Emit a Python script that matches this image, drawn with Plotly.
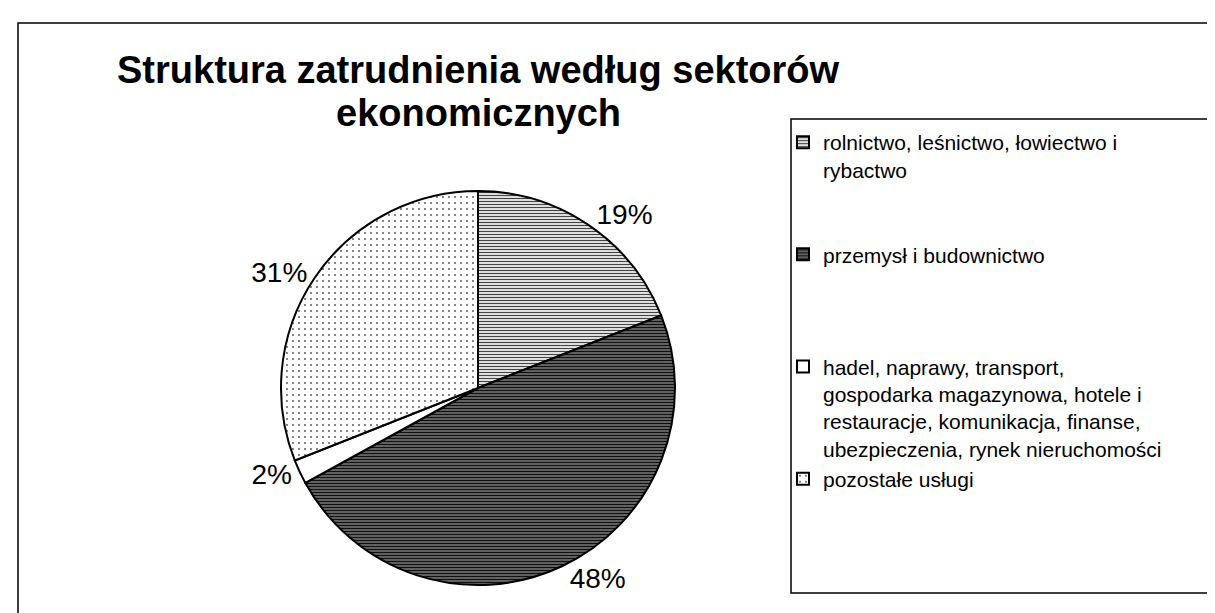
import plotly.graph_objects as go

W, H = 1215, 613

NB = "<br>\u00a0"  # blank spacer line inside a legend entry
labels = [
    "rolnictwo, leśnictwo, łowiectwo i<br>rybactwo" + NB + NB,
    "przemysł i budownictwo" + NB + NB + NB,
    "hadel, naprawy, transport,<br>gospodarka magazynowa, hotele i<br>restauracje, komunikacja, finanse,<br>ubezpieczenia, rynek nieruchomości",
    "pozostałe usługi",
]
values = [19, 48, 2, 31]
title_lines = ["Struktura zatrudnienia według sektorów", "ekonomicznych"]

pat_shape = ["-", "-", "", "."]
pat_fg = ["#444444", "#111111", "#000000", "#555555"]
pat_bg = ["#ffffff", "#7a7a7a", "#ffffff", "#ffffff"]
pat_size = [3, 3, 6, 6]
pat_sol = [0.45, 0.5, 0.1, 0.08]

FONT = "Liberation Sans, Arial, sans-serif"

def px(x):
    return x / W

def py(y):
    return 1 - y / H

cx, cy, rad = 470, 380, 197

fig = go.Figure(go.Pie(
    labels=labels,
    values=values,
    sort=False,
    direction="clockwise",
    rotation=0,
    textposition="outside",
    texttemplate="%{percent:.0%}",
    textfont=dict(family=FONT, size=28, color="black"),
    marker=dict(
        colors=pat_bg,
        line=dict(color="black", width=2),
        pattern=dict(shape=pat_shape, fgcolor=pat_fg, bgcolor=pat_bg,
                     size=pat_size, solidity=pat_sol, fillmode="replace"),
    ),
    domain=dict(x=[px(cx - rad), px(cx + rad)],
                y=[py(cy + rad), py(cy - rad)]),
    showlegend=True,
))

fig.update_layout(
    width=W, height=H,
    margin=dict(l=0, r=0, t=0, b=0),
    paper_bgcolor="white",
    plot_bgcolor="white",
    font=dict(family=FONT, color="black"),
    legend=dict(
        x=px(775), y=py(114), xanchor="left", yanchor="top",
        font=dict(size=21, color="black", family=FONT),
        valign="top",
        bgcolor="rgba(0,0,0,0)",
    ),
    shapes=[
        dict(type="rect", xref="paper", yref="paper",
             x0=px(10), x1=px(1240), y0=py(650), y1=py(15),
             line=dict(color="black", width=1.5), fillcolor="rgba(0,0,0,0)"),
        dict(type="rect", xref="paper", yref="paper",
             x0=px(783), x1=px(1207), y0=py(585), y1=py(111),
             line=dict(color="black", width=1.5), fillcolor="rgba(0,0,0,0)"),
    ],
    annotations=[
        dict(text="<b>%s</b>" % title_lines[0], x=px(470), y=py(62),
             xref="paper", yref="paper", xanchor="center", yanchor="middle",
             showarrow=False,
             font=dict(size=38, family=FONT, color="black")),
        dict(text="<b>%s</b>" % title_lines[1], x=px(470), y=py(105),
             xref="paper", yref="paper", xanchor="center", yanchor="middle",
             showarrow=False,
             font=dict(size=38, family=FONT, color="black")),
    ],
)

fig.write_html("out.html")
